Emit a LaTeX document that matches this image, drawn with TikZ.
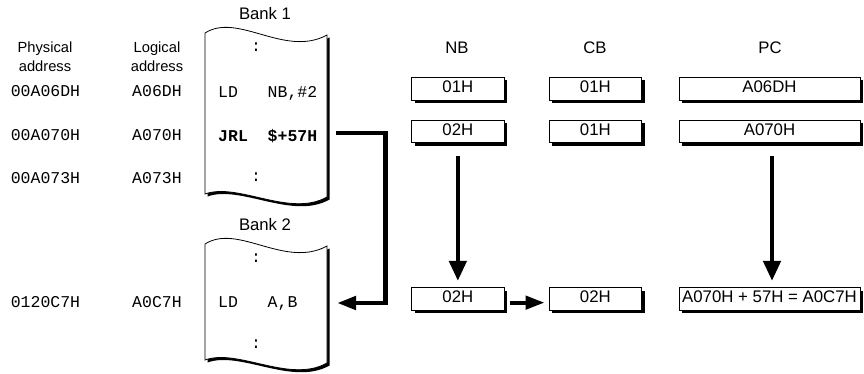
\documentclass[tikz,border=0pt]{standalone}
\usepackage{fontspec}
\setmainfont{Liberation Sans}
\setmonofont{Liberation Mono}
\usetikzlibrary{arrows.meta,shadows}
\newcommand\bankpath[4]{(#1,#3) .. controls ({#1+33},{#3-21}) and ({#1+80},{#3+25}) .. (#2,{#3+2}) -- (#2,{#4+3}) .. controls ({#1+85},{#4+24}) and ({#1+33},{#4-12}) .. (#1,#4) -- cycle}
\newcommand\drawbank[4]{%
  \fill[black, shift={(2.5,2.5)}] \bankpath{#1}{#2}{#3}{#4};
  \filldraw[fill=white, draw=black, line width=0.8pt] \bankpath{#1}{#2}{#3}{#4};
}
\tikzset{
  lbl/.style={anchor=base, inner sep=0pt, font=\fontsize{14.7}{17}\selectfont},
  ttl/.style={anchor=base, inner sep=0pt, font=\fontsize{16.7}{19}\selectfont},
  mono/.style={anchor=base, inner sep=0pt, font=\ttfamily\fontsize{16.5}{19}\selectfont},
  monow/.style={mono, anchor=base west},
  reg/.style={draw=black, fill=white, line width=0.8pt, inner sep=0pt,
    minimum height=22.7pt, text height=12pt, text depth=4pt,
    font=\fontsize{16.8}{19}\selectfont,
    drop shadow={fill=black, opacity=1, shadow xshift=3.2pt, shadow yshift=-3.2pt}},
  arrline/.style={line width=4.5pt, -{Triangle[length=20pt,width=17pt]}},
  harr/.style={line width=4.3pt, -{Triangle[length=19pt,width=13pt]}},
}
\begin{document}
\begin{tikzpicture}[x=1pt,y=-1pt]
\useasboundingbox (0,0) rectangle (864,374);
% column labels
\node[lbl] (phy1) at (45,52.7) {Physical};
\node[lbl] (phy2) at (45,71.7) {address};
\node[lbl] (log1) at (157,52.7) {Logical};
\node[lbl] (log2) at (157,71.7) {address};
\node[mono] (pa1) at (45.5,96.7) {00A06DH};
\node[mono] (pa2) at (45.5,140.7) {00A070H};
\node[mono] (pa3) at (45.5,184) {00A073H};
\node[mono] (pa4) at (45.5,307.7) {0120C7H};
\node[mono] (la1) at (157,96.7) {A06DH};
\node[mono] (la2) at (157,140.7) {A070H};
\node[mono] (la3) at (157,184) {A073H};
\node[mono] (la4) at (157,307.7) {A0C7H};
% banks
\drawbank{205}{327}{33}{194}
\drawbank{205}{327}{244}{360}
\node[ttl] (b1) at (265,20) {Bank 1};
\node[ttl] (b2) at (265,230) {Bank 2};
\node[mono] (c1) at (256,52) {:};
\node[monow] (i1a) at (218,97.3) {LD};
\node[monow] (i1b) at (267.5,97.3) {NB,\#2};
\node[monow] (i2a) at (218,141.7) {\bfseries JRL};
\node[monow] (i2b) at (267.5,141.7) {\bfseries \$+57H};
\node[mono] (c2) at (256,182) {:};
\node[mono] (c3) at (256,262) {:};
\node[monow] (i3a) at (218,307.7) {LD};
\node[monow] (i3b) at (267.5,307.7) {A,B};
\node[mono] (c4) at (256,348) {:};
% headers
\node[ttl] (hnb) at (457,54) {NB};
\node[ttl] (hcb) at (595,54) {CB};
\node[ttl] (hpc) at (770,54) {PC};
% registers
\node[reg, minimum width=92.3pt] (nb1) at (457.85,88.65) {01H};
\node[reg, minimum width=92.7pt] (cb1) at (595.35,88.65) {01H};
\node[reg, minimum width=181pt] (pc1) at (769.5,88.65) {A06DH};
\node[reg, minimum width=92.3pt] (nb2) at (457.85,131.35) {02H};
\node[reg, minimum width=92.7pt] (cb2) at (595.35,131.35) {01H};
\node[reg, minimum width=181pt] (pc2) at (769.5,131.35) {A070H};
\node[reg, minimum width=92.3pt] (nb3) at (457.85,298.65) {02H};
\node[reg, minimum width=92.7pt] (cb3) at (595.35,298.65) {02H};
\node[reg, minimum width=181pt] (pc3) at (769.5,298.65) {A070H + 57H = A0C7H};
% arrows
\coordinate (j1) at (336,133);
\coordinate (jv) at (385.5,133);
\coordinate (j2) at (337,303);
\draw[line width=4.5pt, -{Triangle[length=19pt,width=13pt]}] (j1) -- (jv) |- (j2);
\draw[arrline, shorten <=13pt, shorten >=6pt] (nb2) -- (nb3);
\draw[arrline, shorten <=13pt, shorten >=6pt] ([xshift=2.5pt]pc2.south) -- ([xshift=2.5pt]pc3.north);
\draw[harr, shorten <=6pt, shorten >=4pt] ([yshift=-4pt]nb3.east) -- ([yshift=-4pt]cb3.west);
\end{tikzpicture}
\end{document}
